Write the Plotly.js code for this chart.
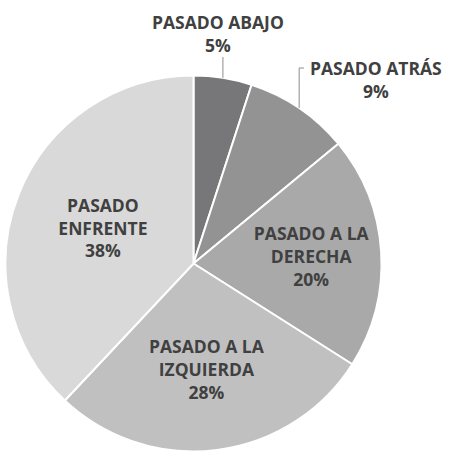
<!DOCTYPE html>
<html>
<head>
<meta charset="utf-8">
<script src="https://cdn.plot.ly/plotly-3.0.1.min.js"></script>
<style>html,body{margin:0;padding:0;background:#fff}#chart{width:450px;height:458px}</style>
</head>
<body>
<div id="chart"></div>
<script>
var categories = ["PASADO ABAJO", "PASADO ATRÁS", "PASADO A LA DERECHA", "PASADO A LA IZQUIERDA", "PASADO ENFRENTE"];
var displayLabels = ["PASADO ABAJO", "PASADO ATRÁS", "PASADO A LA<br>DERECHA", "PASADO A LA<br>IZQUIERDA", "PASADO<br>ENFRENTE"];
var values = [5, 9, 20, 28, 38];
var sliceColors = ["#77777a", "#939393", "#a9a9a9", "#c0c0c0", "#d9d9d9"];
var textPositions = ["none", "none", "inside", "inside", "inside"];

// layout constants (pixels)
var W = 450, H = 458;
var CX = 193.5, CY = 263.5, R = 188;
var FONT = {family: "Open Sans, sans-serif", size: 17.5, color: "#404040", weight: "bold"};
// outside label placement: [index, labelCenterX, labelCenterY, elbowY, elbowEndX]
var outsideLabels = [
  {i: 0, x: 217.5, y: 33, elbowY: 57, endX: null},
  {i: 1, x: 376, y: 80, elbowY: 68, endX: 304}
];

function px2paperX(x) { return x / W; }
function px2paperY(y) { return 1 - y / H; }

var total = values.reduce(function (a, b) { return a + b; }, 0);
var cum = [];
var acc = 0;
values.forEach(function (v) { cum.push(acc + v / 2); acc += v; });

var annotations = [];
var shapes = [];
outsideLabels.forEach(function (o) {
  var pct = Math.round(values[o.i] / total * 100) + "%";
  annotations.push({
    xref: "paper", yref: "paper",
    x: px2paperX(o.x), y: px2paperY(o.y),
    xanchor: "center", yanchor: "middle",
    text: displayLabels[o.i] + "<br>" + pct,
    showarrow: false,
    font: FONT
  });
  var ang = cum[o.i] / total * 2 * Math.PI;
  var ex = CX + R * Math.sin(ang);
  var ey = CY - R * Math.cos(ang);
  var path = "M" + px2paperX(ex) + "," + px2paperY(ey) + " L" + px2paperX(ex) + "," + px2paperY(o.elbowY);
  if (o.endX !== null) path += " L" + px2paperX(o.endX) + "," + px2paperY(o.elbowY);
  shapes.push({type: "path", xref: "paper", yref: "paper", path: path, line: {color: "#8c8c8c", width: 1}});
});

var trace = {
  type: "pie",
  labels: categories,
  values: values,
  text: displayLabels,
  texttemplate: "%{text}<br>%{percent:.0%}",
  textinfo: "text+percent",
  textposition: textPositions,
  insidetextorientation: "horizontal",
  sort: false,
  direction: "clockwise",
  rotation: 0,
  marker: {colors: sliceColors, line: {color: "#ffffff", width: 2}},
  textfont: FONT,
  showlegend: false,
  hoverinfo: "none",
  automargin: false,
  domain: {x: [(CX - R) / W, (CX + R) / W], y: [1 - (CY + R) / H, 1 - (CY - R) / H]}
};

var layout = {
  width: W,
  height: H,
  margin: {l: 0, r: 0, t: 0, b: 0},
  paper_bgcolor: "#ffffff",
  showlegend: false,
  annotations: annotations,
  shapes: shapes
};

Plotly.newPlot("chart", [trace], layout, {displayModeBar: false, staticPlot: true});
</script>
</body>
</html>
